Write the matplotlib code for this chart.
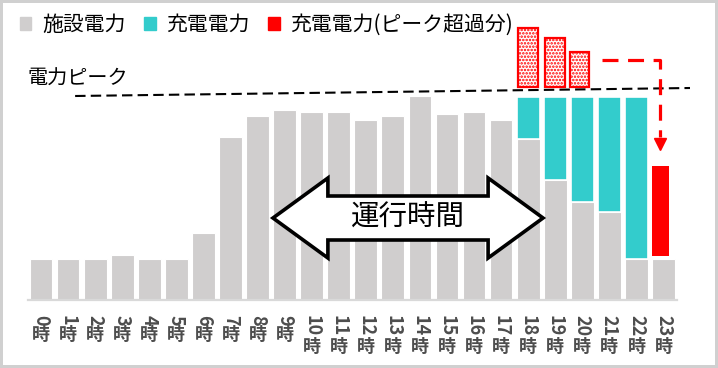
import matplotlib
matplotlib.use("Agg")
import matplotlib.pyplot as plt
from matplotlib.patches import Patch, Polygon

plt.rcParams['font.family'] = ['Noto Sans CJK JP', 'DejaVu Sans']
plt.rcParams['hatch.linewidth'] = 1.2

# data (arbitrary units)
hours = list(range(24))
facility = [41, 41, 41, 45, 41, 41, 67, 163, 184, 190, 188, 188,
            180, 184, 204, 186, 188, 180, 161, 120, 98, 88, 41, 41]
charge = [0] * 18 + [42, 83, 105, 115, 162, 0]
excess_hours = [18, 19, 19.9]
excess_base = 213
excess = [59, 49, 35]
shifted_hour = 23
shifted = 90
peak_start = (1.26, 204)
peak_end = (23.98, 212)

legend_labels = ['施設電力', '充電電力', '充電電力(ピーク超過分)']
c_gray = '#D0CECE'
c_cyan = '#33CCCC'
c_red = '#FF0000'
label_color = '#4D4D4D'

fig = plt.figure(figsize=(7.18, 3.68), dpi=100, facecolor='white',
                 edgecolor='#D0D0D0', linewidth=4)
ax = fig.add_axes([27.5 / 718, 68 / 368, 649.5 / 718, 280 / 368])

bw = 0.84
ax.bar(hours, facility, width=bw, color=c_gray, edgecolor='white', linewidth=0.8, zorder=2)
ax.bar(hours, charge, width=bw, bottom=facility, color=c_cyan,
       edgecolor='white', linewidth=1.2, zorder=2)

# excess above the peak (hatched)
ax.bar(excess_hours, excess, width=0.72, bottom=excess_base, color='white',
       edgecolor=c_red, linewidth=1.6, hatch='.....', zorder=3, clip_on=False)

# charging shifted to 23h
ax.bar(shifted_hour - 0.41, shifted, width=0.63, bottom=facility[shifted_hour] + 3,
       align='edge', color=c_red, linewidth=0, zorder=3)

# peak line
ax.plot([peak_start[0], peak_end[0]], [peak_start[1], peak_end[1]], color='black',
        lw=1.5, linestyle=(0, (5, 2.5)), zorder=4, clip_on=False)
ax.text(-0.5, 221, '電力ピーク', fontsize=14.5, va='center', ha='left', color='black')

# red dashed arrow from the excess to 23h
ax.plot([20.73, 22.88, 22.88], [240, 240, 163], color=c_red, lw=2.3,
        linestyle=(0, (5, 3)), zorder=4, clip_on=False)
ax.plot([22.88], [156], marker='v', markersize=9, color=c_red, zorder=4, clip_on=False)

# double arrow "運行時間"
xl, xr, yc = 8.57, 18.55, 82
hl, bh, hh = 2.03, 22, 40
verts = [(xl, yc), (xl + hl, yc + hh), (xl + hl, yc + bh), (xr - hl, yc + bh),
         (xr - hl, yc + hh), (xr, yc), (xr - hl, yc - hh), (xr - hl, yc - bh),
         (xl + hl, yc - bh), (xl + hl, yc - hh)]
ax.add_patch(Polygon(verts, closed=True, facecolor='white', edgecolor='black',
                     linewidth=2.6, joinstyle='miter', zorder=5))
ax.text((xl + xr) / 2, yc, '運行時間', fontsize=20.5, ha='center', va='center',
        color='black', zorder=6)

ax.set_xlim(-0.5, 23.5)
ax.set_ylim(0, 280)
for s in ['top', 'right', 'left']:
    ax.spines[s].set_visible(False)
ax.spines['bottom'].set_color('#D9D9D9')
ax.spines['bottom'].set_linewidth(1.6)
ax.set_xticks([])
ax.set_yticks([])

# vertical tick labels: digits rotated, 時 upright
for i, h in enumerate(hours):
    d = str(h)
    ax.annotate(d, xy=(i, 0), xycoords=('data', 'axes fraction'),
                xytext=(0, -15), textcoords='offset pixels', rotation=-90,
                ha='center', va='top', fontsize=13, fontweight='bold', color=label_color)
    ax.annotate('時', xy=(i, 0), xycoords=('data', 'axes fraction'),
                xytext=(0, -34 - 12 * (len(d) - 1)), textcoords='offset pixels',
                ha='center', va='center', fontsize=13, fontweight='bold', color=label_color)

handles = [Patch(color=c_gray), Patch(color=c_cyan), Patch(color=c_red)]
fig.legend(handles, legend_labels, loc='center left', bbox_to_anchor=(20 / 718, 1 - 25 / 368),
           ncol=3, frameon=False, fontsize=15, handlelength=0.55, handleheight=0.55,
           handletextpad=0.5, columnspacing=0.9, borderpad=0, borderaxespad=0)

fig.savefig('out.png', dpi=100)
